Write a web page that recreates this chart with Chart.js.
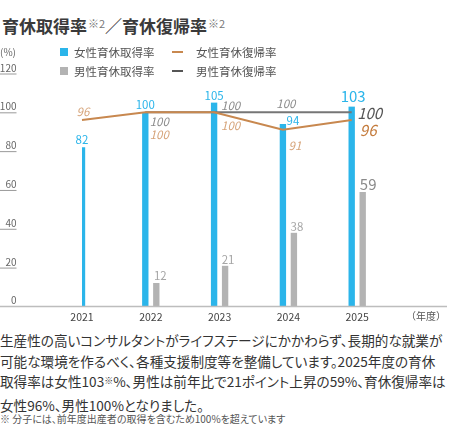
<!DOCTYPE html>
<html lang="ja">
<head>
<meta charset="utf-8">
<script src="https://cdn.jsdelivr.net/npm/chart.js@4.4.1/dist/chart.umd.min.js"></script>
<style>
  html, body { margin:0; padding:0; background:#fff; }
  body { width:450px; height:445px; position:relative; overflow:hidden; font-family:"Noto Sans CJK JP","Noto Sans",sans-serif; }
  #title { position:absolute; left:2px; top:16px; font-size:17px; line-height:20px; font-weight:bold; color:#3a3a3a; white-space:nowrap; }
  #title .note { font-size:11px; font-weight:normal; color:#777; position:relative; top:-5px; margin-left:1px; }
  #chartbox { position:absolute; left:0; top:0; width:450px; height:330px; }
  #legend { position:absolute; left:0; top:0; }
  .lg { position:absolute; display:flex; align-items:center; height:16px; font-size:11.5px; color:#555; white-space:nowrap; }
  .lg .sq { width:8px; height:8px; margin-right:6px; }
  .lg .ln { width:11px; height:2px; margin-right:13px; }
  #desc { position:absolute; left:0; top:330px; width:450px; font-size:13.6px; line-height:20.5px; color:#333; font-feature-settings:"palt"; white-space:nowrap; }
  #foot { position:absolute; left:0; top:412px; font-size:10px; line-height:14px; color:#555; font-feature-settings:"palt"; white-space:nowrap; }
</style>
</head>
<body>
<div id="title">育休取得率<span class="note">※2</span>／育休復帰率<span class="note">※2</span></div>
<div id="chartbox"><canvas id="c"></canvas></div>
<div id="legend"></div>
<div id="desc">生産性の高いコンサルタントがライフステージにかかわらず、長期的な就業が<br>可能な環境を作るべく、各種支援制度等を整備しています。2025年度の育休<br>取得率は女性103<span style="font-size:9px;position:relative;top:-3px">※</span>%、男性は前年比で21ポイント上昇の59%、育休復帰率は<br>女性96%、男性100%となりました。</div>
<div id="foot">※ 分子には、前年度出産者の取得を含むため100%を超えています</div>
<script>
// ---- data ----
const categories = ['2021', '2022', '2023', '2024', '2025', '（年度）'];
const femaleTake = [82, 100, 105, 94, 103];
const maleTake = [null, 12, 21, 38, 59];
const femaleReturn = [96, 100, 100, 91, 96];
const maleReturn = [null, 100, 100, 100, 100];
const yTickValues = [0, 20, 40, 60, 80, 100, 120];
const seriesNames = ['女性育休取得率', '男性育休取得率', '女性育休復帰率', '男性育休復帰率'];

// ---- styles ----
const BLUE = '#2bb5ea', GRAYBAR = '#b3b3b3', BROWN = '#c8884f', GRAYLINE = '#767676';
const FONT = '"Noto Sans CJK JP","Noto Sans",sans-serif';

// label styles per dataset: offsets from element, sizes, colors, per index
const labelStyles = [
  { align:'center', italic:false, color:['#2bb5ea','#2bb5ea','#2bb5ea','#2bb5ea','#2bb5ea'],
    size:[11.5,11.5,11.5,11.5,15], dx:[0,0,0,10,1.5], dy:[-8,-8,-7,-3,-10] },
  { align:'center', italic:false, color:['#a6a6a6','#a6a6a6','#a6a6a6','#a6a6a6','#8a8a8a'],
    size:[11.5,11.5,11.5,11.5,15], dx:[0,4,3,3,5.5], dy:[0,-7,-6,-6.5,-8] },
  { align:'center', italic:true, color:['#d6a47a','#d6a47a','#d6a47a','#d6a47a','#c47b3c'],
    size:[11.5,11.5,11.5,11.5,15], dx:[1,14,16.5,12,16.5], dy:[-8.6,22.7,13.7,16,10] },
  { align:'center', italic:true, color:['#8c8c8c','#8c8c8c','#8c8c8c','#8c8c8c','#555555'],
    size:[11.5,11.5,11.5,11.5,15], dx:[0,14,16.5,3,18], dy:[0,9.7,-7,-8.7,1.3] }
];

const axisPlugin = {
  id: 'customAxis',
  afterDraw(chart) {
    const ctx = chart.ctx, y = chart.scales.y;
    ctx.save();
    const y0 = y.getPixelForValue(0);
    ctx.strokeStyle = '#bdbdbd'; ctx.lineWidth = 1.5;
    ctx.beginPath(); ctx.moveTo(0, y0); ctx.lineTo(447, y0); ctx.stroke();
    ctx.font = '10px ' + FONT; ctx.fillStyle = '#666';
    ctx.textAlign = 'right'; ctx.textBaseline = 'alphabetic';
    yTickValues.forEach(v => {
      const py = y.getPixelForValue(v);
      if (v !== 0) {
        ctx.strokeStyle = '#9a9a9a'; ctx.lineWidth = 1;
        ctx.beginPath(); ctx.moveTo(0, py + 0.5); ctx.lineTo(16.5, py + 0.5); ctx.stroke();
      }
      ctx.fillText(String(v), 16.5, py - 2);
    });
    ctx.textAlign = 'left'; ctx.textBaseline = 'middle';
    ctx.fillText('(%)', 0, 52.5);
    ctx.restore();
  }
};

const alignLinesPlugin = {
  id: 'alignLines',
  afterDatasetsUpdate(chart) {
    const barMeta = chart.getDatasetMeta(0);
    [2, 3].forEach(di => {
      const meta = chart.getDatasetMeta(di);
      meta.data.forEach((pt, i) => {
        const b = barMeta.data[i];
        if (b) pt.x = b.x;
      });
    });
  }
};

const labelPlugin = {
  id: 'valueLabels',
  afterDatasetsDraw(chart) {
    const ctx = chart.ctx;
    ctx.save();
    ctx.textBaseline = 'middle';
    chart.data.datasets.forEach((ds, di) => {
      const meta = chart.getDatasetMeta(di);
      const st = labelStyles[di];
      meta.data.forEach((el, i) => {
        const v = ds.data[i];
        if (v === null || v === undefined) return;
        ctx.font = (st.italic ? 'italic ' : '') + st.size[i] + 'px ' + FONT;
        ctx.fillStyle = st.color[i];
        ctx.textAlign = st.align;
        ctx.fillText(String(v), el.x + st.dx[i], el.y + st.dy[i]);
      });
    });
    ctx.restore();
  }
};

const barBorder = { left: 2.65, right: 2.65, top: 0, bottom: 0 };

const chart = new Chart(document.getElementById('c'), {
  type: 'bar',
  data: {
    labels: categories,
    datasets: [
      { type:'bar', label: seriesNames[0], data: femaleTake, backgroundColor: BLUE, borderColor:'rgba(0,0,0,0)',
        borderWidth: barBorder, barThickness: 11, skipNull: true, order: 1 },
      { type:'bar', label: seriesNames[1], data: maleTake, backgroundColor: GRAYBAR, borderColor:'rgba(0,0,0,0)',
        borderWidth: barBorder, barThickness: 11, skipNull: true, order: 1 },
      { type:'line', label: seriesNames[2], data: femaleReturn, borderColor: BROWN, backgroundColor: BROWN,
        borderWidth: 2, pointRadius: 0, tension: 0, order: 0 },
      { type:'line', label: seriesNames[3], data: maleReturn, borderColor: GRAYLINE, backgroundColor: GRAYLINE,
        borderWidth: 2, pointRadius: 0, tension: 0, order: 0 }
    ]
  },
  options: {
    responsive: true,
    maintainAspectRatio: false,
    animation: false,
    layout: { padding: { left: 82, right: 20, top: 73.5, bottom: 3 } },
    plugins: { legend: { display: false }, tooltip: { enabled: false }, title: { display: false } },
    scales: {
      x: {
        type: 'category', offset: false,
        grid: { display: false, drawTicks: false }, border: { display: false },
        ticks: {
          autoSkip: false, maxRotation: 0, padding: 4,
          color: (c) => c.index === 5 ? '#555' : '#444',
          font: (c) => ({ family: FONT, size: c.index === 5 ? 10 : 10.5 })
        }
      },
      y: { display: false, min: 0, max: 120 }
    }
  },
  plugins: [alignLinesPlugin, axisPlugin, labelPlugin]
});

// legend built from the chart's datasets
const legend = document.getElementById('legend');
const legendOrder = [0, 2, 1, 3];
const legendPos = [[60, 44], [172, 44], [60, 63], [172, 63]];
legendOrder.forEach((di, k) => {
  const ds = chart.data.datasets[di];
  const item = document.createElement('div');
  item.className = 'lg';
  item.style.left = legendPos[k][0] + 'px';
  item.style.top = legendPos[k][1] + 'px';
  const mk = document.createElement('span');
  mk.className = ds.type === 'line' ? 'ln' : 'sq';
  mk.style.background = ds.type === 'line' ? ds.borderColor : ds.backgroundColor;
  if (ds.type === 'line' && di === 3) mk.style.background = '#555';
  const tx = document.createElement('span');
  tx.textContent = ds.label;
  item.appendChild(mk); item.appendChild(tx);
  legend.appendChild(item);
});
</script>
</body>
</html>
